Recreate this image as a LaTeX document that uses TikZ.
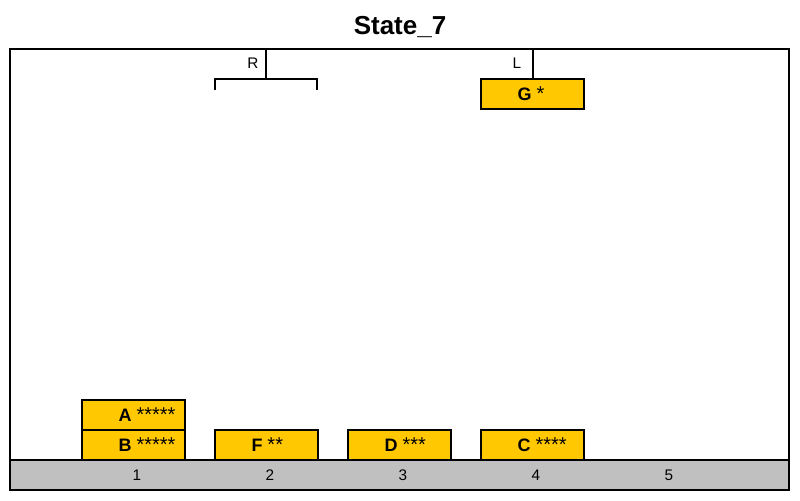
\documentclass[tikz,border=0pt]{standalone}
\usepackage{fontspec}
\setmainfont{Liberation Sans}
\usetikzlibrary{positioning}
\definecolor{blockyellow}{RGB}{255,200,0}
\definecolor{floorgray}{RGB}{192,192,192}
\tikzset{
  blockbox/.style={draw=black,fill=blockyellow,line width=1.2pt,minimum width=77.25pt,minimum height=22.5pt,inner sep=0,outer sep=0,font=\fontsize{13.5}{14}\selectfont},
  slotlabel/.style={font=\fontsize{11.5}{12}\selectfont,inner sep=0},
  cranelabel/.style={font=\fontsize{11.5}{12}\selectfont,inner sep=0},
  cable/.style={line width=1.1pt}
}
\newcommand{\blocktext}[2]{\makebox[0pt][l]{\hspace*{-11.25pt}\textbf{#1} {\fontsize{15}{15}\selectfont#2}}}

\begin{document}
\begin{tikzpicture}[x=0.75pt,y=-0.75pt]
  \useasboundingbox (0,0) rectangle (800,500);
  \node[font=\bfseries\fontsize{19.5}{20}\selectfont] (title) at (400,27) {State\_7};
  % floor and frame
  \fill[floorgray] (10,460) rectangle (789,490);
  \draw[line width=1.2pt] (10,460) -- (789,460);
  \draw[line width=1.5pt] (10,49) rectangle (789,490);
  \foreach \i in {1,...,5}
    \node[slotlabel] (slot\i) at ({4+133*\i},475) {\i};
  % blocks
  \node[blockbox] (B) at (133.5,445) {\blocktext{B}{*****}};
  \node[blockbox,above=0pt of B] (A) {\blocktext{A}{*****}};
  \node[blockbox] (F) at (266.5,445) {\blocktext{F}{**}};
  \node[blockbox] (D) at (399.5,445) {\blocktext{D}{***}};
  \node[blockbox] (C) at (532.5,445) {\blocktext{C}{****}};
  \node[blockbox] (G) at (532.5,94) {\blocktext{G}{*}};
  % cranes
  \coordinate (Rtop) at (266,49);
  \coordinate (Rhook) at (266,79);
  \coordinate (Rleft) at (215,90);
  \coordinate (Rright) at (317,90);
  \draw[cable] (Rtop) -- (Rhook);
  \draw[cable] (Rleft) |- (Rhook) -| (Rright);
  \node[cranelabel] (Rlabel) at (253,63) {R};
  \coordinate (Ltop) at (533,49);
  \draw[cable] (Ltop) -- (G.north -| Ltop);
  \node[cranelabel] (Llabel) at (517,63) {L};
\end{tikzpicture}
\end{document}
